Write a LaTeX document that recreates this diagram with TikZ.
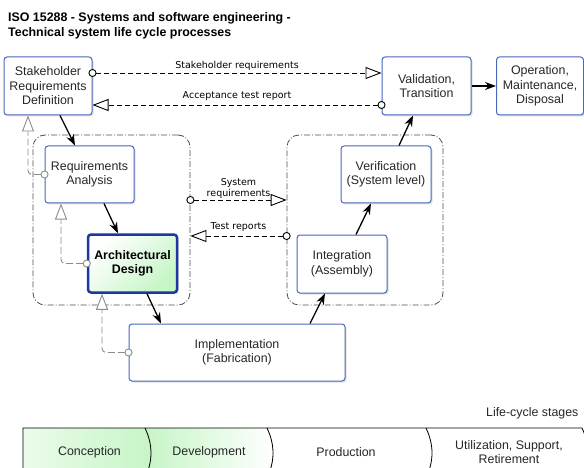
\documentclass[tikz,border=0pt]{standalone}
\usepackage{fontspec}
\setmainfont{Liberation Sans}
\newfontfamily\labelfont{DejaVu Sans}
\usetikzlibrary{arrows.meta, shadows}

\definecolor{boxblue}{RGB}{72,104,186}
\definecolor{archblue}{RGB}{28,56,158}
\definecolor{lightgreen}{RGB}{198,245,198}
\definecolor{tracegray}{RGB}{140,140,140}

\tikzstyle{process} = [rectangle, rounded corners=3pt, minimum width=89pt, minimum height=58pt, inner sep=0pt, draw=boxblue, line width=1pt, fill=white, text=black!85, align=center, font=\fontsize{12.4}{14.5}\selectfont, drop shadow={shadow xshift=1.5pt, shadow yshift=-1.5pt, opacity=0.25}]
\tikzstyle{focus} = [process, draw=archblue, line width=2.5pt, left color=white, right color=lightgreen, shading angle=45, text=black, font=\bfseries\fontsize{12.4}{14.5}\selectfont]
\tikzstyle{group} = [rectangle, rounded corners=12pt, draw=black!70, line width=0.8pt, dash pattern=on 6pt off 2pt on 1pt off 2pt]
\tikzstyle{arrow} = [line width=1.3pt, -{Stealth[length=11pt, width=8pt]}]
\tikzstyle{iface} = [line width=0.9pt, dash pattern=on 5pt off 3pt, {Circle[open, fill=white, length=8pt, width=8pt]}-{Triangle[open, fill=white, length=16pt, width=12pt]}, shorten <=-4pt]
\tikzstyle{trace} = [iface, draw=tracegray, dash pattern=on 7pt off 3pt, rounded corners=4pt]
\tikzstyle{ifacelabel} = [font=\labelfont\fontsize{9.5}{11}\selectfont, align=center, inner sep=1pt]
\tikzstyle{stagelabel} = [font=\fontsize{12.4}{14.5}\selectfont, text=black!85, align=center]

\begin{document}
\begin{tikzpicture}[x=1pt, y=-1pt]

\path [use as bounding box, clip] (0,0) rectangle (584,468);

\node (title) [anchor=north west, align=left, inner sep=0pt, font=\bfseries\fontsize{12.4}{14.5}\selectfont] at (8,12.5) {ISO 15288 - Systems and software engineering -\\Technical system life cycle processes};

% groups
\node (leftgrp) [group, minimum width=157pt, minimum height=170pt] at (111.5,220) {};
\node (rightgrp) [group, minimum width=156pt, minimum height=170pt] at (365,220) {};

% processes
\node (stake) [process, minimum width=88pt] at (48,86) {Stakeholder\\Requirements\\Definition};
\node (valid) [process] at (426.5,86) {Validation,\\Transition};
\node (oper) [process, minimum width=87pt] at (540,86) {Operation,\\Maintenance,\\Disposal};
\node (reqan) [process, minimum height=57pt] at (89.5,174.5) {Requirements\\Analysis};
\node (arch) [focus] at (132.5,263.5) {Architectural\\Design};
\node (verif) [process, minimum width=90pt, minimum height=57pt] at (386,174.5) {Verification\\(System level)};
\node (integ) [process, minimum width=90pt] at (342,264) {Integration\\(Assembly)};
\node (impl) [process, minimum width=216pt, minimum height=57pt] at (237,352.5) {Implementation\\(Fabrication)};

\draw [arrow] ([xshift=12pt]stake.south) -- ([xshift=-14.5pt]reqan.north);
\draw [arrow] ([xshift=14.5pt]reqan.south) -- ([xshift=-14.5pt]arch.north);
\draw [arrow] ([xshift=14.5pt]arch.south) -- ([xshift=-76pt]impl.north);
\draw [arrow] ([xshift=73pt]impl.north) -- ([xshift=-17pt]integ.south);
\draw [arrow] ([xshift=14pt]integ.north) -- ([xshift=-15pt]verif.south);
\draw [arrow] ([xshift=13pt]verif.north) -- ([xshift=-13.5pt]valid.south);
\draw [arrow] (valid) -- (oper);

% interfaces
\draw [iface] ([yshift=13pt]stake.east) -- node[ifacelabel, above=1pt] {Stakeholder requirements} ([yshift=13pt]valid.west);
\draw [iface] ([yshift=-19pt]valid.west) -- node[ifacelabel, above=3pt] {Acceptance test report} ([yshift=-19pt]stake.east);
\draw [iface] ([yshift=20pt]leftgrp.east) -- node[ifacelabel, above=0pt] {System\\requirements} ([yshift=20pt]rightgrp.west);
\draw [iface] ([yshift=-16pt]rightgrp.west) -- node[ifacelabel, above=3pt] {Test reports} ([yshift=-16pt]leftgrp.east);

\draw [trace] (reqan.west) -| ([xshift=-20pt]stake.south);
\draw [trace] (arch.west) -| ([xshift=-28.5pt]reqan.south);
\draw [trace] (impl.west) -| ([xshift=-30.5pt]arch.south);

% life-cycle stages
\node (stages) [stagelabel, anchor=base east] at (582,416) {Life-cycle stages};
\fill [left color=lightgreen!35, right color=lightgreen] (23,428) -- (145,428) .. controls (153,445) and (153,461) .. (145,478) -- (23,478) -- cycle;
\fill [left color=lightgreen, right color=white] (145,428) -- (267,428) .. controls (275,445) and (275,461) .. (267,478) -- (145,478) .. controls (153,461) and (153,445) .. (145,428);
\draw [line width=0.8pt] (23,478) -- (23,428) -- (582,428) .. controls (590,445) and (590,461) .. (582,478);
\foreach \x in {145,267,426}
  \draw [line width=0.8pt] (\x,428) .. controls (\x+8,445) and (\x+8,461) .. (\x,478);
\node (conc) [stagelabel] at (89.5,452) {Conception};
\node (devel) [stagelabel] at (209,452) {Development};
\node (prod) [stagelabel] at (346,452) {Production};
\node (util) [stagelabel] at (509,452) {Utilization, Support,\\Retirement};

\end{tikzpicture}
\end{document}
